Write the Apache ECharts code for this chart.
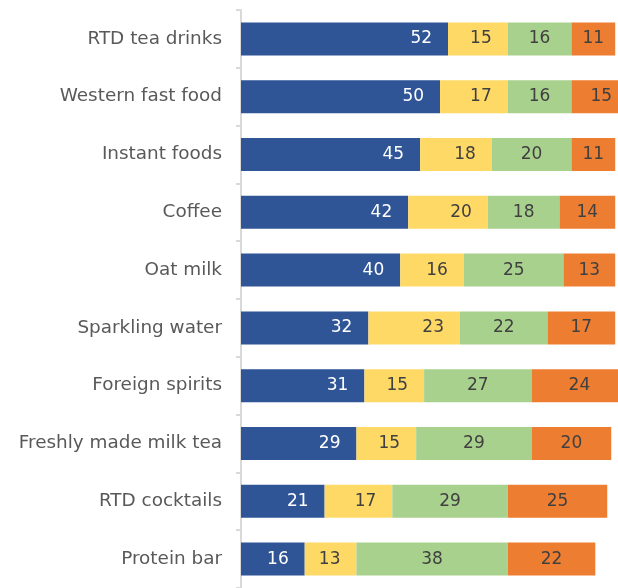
<!DOCTYPE html>
<html><head><meta charset="utf-8">
<script src="https://cdn.jsdelivr.net/npm/echarts@6/dist/echarts.min.js"></script>
<style>html,body{margin:0;padding:0;background:#fff}#c{width:618px;height:588px}</style>
</head><body><div id="c"></div>
<script>
const categories = ["RTD tea drinks","Western fast food","Instant foods","Coffee","Oat milk","Sparkling water","Foreign spirits","Freshly made milk tea","RTD cocktails","Protein bar"];
const s1 = [52,50,45,42,40,32,31,29,21,16];
const s2 = [15,17,18,20,16,23,15,15,17,13];
const s3 = [16,16,20,18,25,22,27,29,29,38];
const s4 = [11,15,11,14,13,17,24,20,25,22];
const seriesData = [s1,s2,s3,s4];
const colors = ['#2F5597','#FFD966','#A9D18E','#ED7D31'];
const labelColors = ['#ffffff','#404040','#404040','#404040'];
const labelPos = ['insideRight','insideRight','inside','inside'];
const FONT = 'DejaVu Sans';
const chart = echarts.init(document.getElementById('c'));
chart.setOption({
  animation:false,
  grid:{left:241,right:0,top:10,bottom:-2,containLabel:false},
  xAxis:{type:'value',min:0,max:94.7,show:false},
  yAxis:{type:'category',data:categories,inverse:true,
    axisLine:{show:true,lineStyle:{color:'#d9d9d9',width:2}},
    axisTick:{show:true,length:5,lineStyle:{color:'#d9d9d9',width:2}},
    axisLabel:{color:'#595959',fontSize:18.4,fontFamily:FONT,margin:19}},
  series: seriesData.map((d,i)=>({
    type:'bar',stack:'a',data:d,barWidth:33,clip:false,
    itemStyle:{color:colors[i]},
    label:{show:true,position:labelPos[i],distance:16,color:labelColors[i],fontSize:17,fontFamily:FONT}
  }))
});
</script></body></html>
